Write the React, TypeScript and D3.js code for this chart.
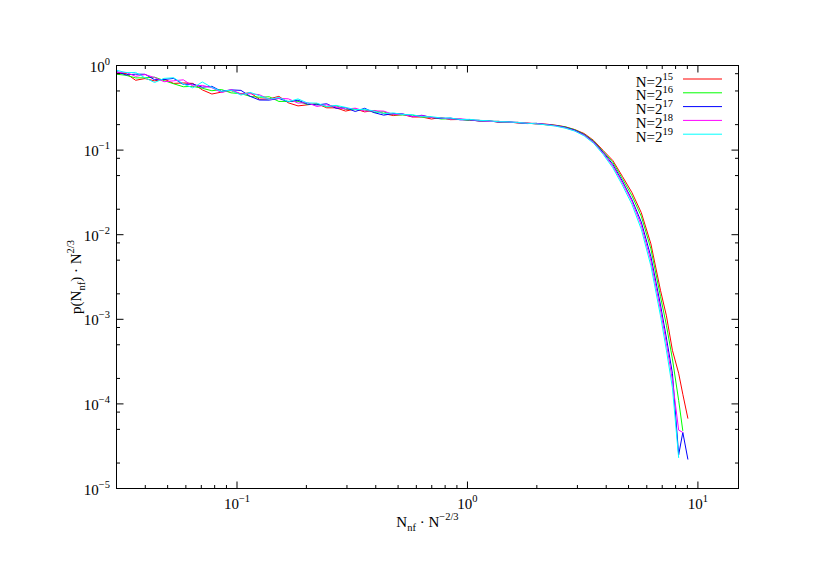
import React from "react";
import * as d3 from "d3";

const width = 830;
const height = 587;
const margin = { top: 65.5, right: 91.5, bottom: 98.5, left: 116.5 };
const font = "'Liberation Serif', 'Times New Roman', serif";
const fs = 15;
const fsSmall = 10.5;

// x grid, N_nf * N^(-2/3)
const xs = [
  0.03, 0.033, 0.0363, 0.0399, 0.0439, 0.0483, 0.0531, 0.0585, 0.0643, 0.0707,
  0.0778, 0.0856, 0.0942, 0.104, 0.114, 0.125, 0.138, 0.152, 0.167, 0.184,
  0.202, 0.222, 0.245, 0.269, 0.296, 0.326, 0.358, 0.394, 0.433, 0.477,
  0.524, 0.577, 0.634, 0.698, 0.768, 0.844, 0.929, 1.02, 1.12, 1.24,
  1.36, 1.5, 1.65, 1.81, 1.99, 2.19, 2.41, 2.65, 2.92, 3.21,
  3.53, 3.88, 4.27, 4.7, 5.17, 5.68, 6.25, 6.88, 7.3, 7.75,
  8.25, 8.6, 9.05,
];

// p(N_nf) * N^(2/3) for each system size
const n15 = [
  0.805, 0.806, 0.669, 0.701, 0.658, 0.69, 0.614, 0.622, 0.614, 0.515,
  0.46, 0.485, 0.505, 0.461, 0.477, 0.4, 0.403, 0.432, 0.362, 0.333,
  0.343, 0.355, 0.316, 0.316, 0.289, 0.307, 0.283, 0.294, 0.27, 0.256,
  0.263, 0.246, 0.246, 0.233, 0.243, 0.229, 0.23, 0.228, 0.221, 0.222,
  0.214, 0.216, 0.209, 0.21, 0.203, 0.203, 0.197, 0.189, 0.175, 0.157,
  0.13, 0.099, 0.0755, 0.049, 0.0316, 0.0182, 0.0078, 0.0022, 0.0011, 0.00043,
  0.00023, 0.00013, 0.000067,
];
const n16 = [
  0.789, 0.766, 0.714, 0.715, 0.728, 0.663, 0.608, 0.561, 0.567, 0.538,
  0.503, 0.52, 0.475, 0.465, 0.432, 0.421, 0.427, 0.376, 0.377, 0.377,
  0.346, 0.348, 0.326, 0.335, 0.302, 0.301, 0.298, 0.28, 0.283, 0.262,
  0.26, 0.259, 0.246, 0.245, 0.233, 0.234, 0.232, 0.224, 0.225, 0.218,
  0.219, 0.212, 0.213, 0.206, 0.207, 0.199, 0.196, 0.188, 0.174, 0.154,
  0.1275, 0.096, 0.072, 0.046, 0.029, 0.0165, 0.0068, 0.00186, 0.00085, 0.00034,
  0.00011, 0.000048, null,
];
const n17 = [
  0.847, 0.774, 0.79, 0.788, 0.679, 0.683, 0.704, 0.598, 0.603, 0.554,
  0.567, 0.495, 0.515, 0.508, 0.432, 0.391, 0.39, 0.408, 0.373, 0.389,
  0.35, 0.342, 0.353, 0.312, 0.317, 0.286, 0.312, 0.277, 0.259, 0.27,
  0.268, 0.249, 0.258, 0.243, 0.236, 0.239, 0.228, 0.228, 0.221, 0.221,
  0.215, 0.216, 0.211, 0.206, 0.207, 0.201, 0.195, 0.186, 0.172, 0.152,
  0.125, 0.094, 0.068, 0.043, 0.026, 0.0141, 0.0055, 0.00148, 0.0006, 0.00023,
  0.000025, 0.000046, 0.000022,
];
const n18 = [
  0.83, 0.83, 0.745, 0.781, 0.721, 0.643, 0.659, 0.677, 0.573, 0.582,
  0.546, 0.479, 0.519, 0.461, 0.464, 0.452, 0.398, 0.408, 0.404, 0.359,
  0.364, 0.328, 0.343, 0.325, 0.305, 0.313, 0.289, 0.291, 0.289, 0.264,
  0.265, 0.249, 0.255, 0.243, 0.24, 0.232, 0.235, 0.228, 0.225, 0.218,
  0.219, 0.214, 0.213, 0.208, 0.206, 0.2, 0.194, 0.184, 0.169, 0.15,
  0.1225, 0.0917, 0.065, 0.041, 0.0248, 0.0129, 0.0049, 0.00129, 0.00052, 0.00019,
  0.000049, 0.000046, null,
];
const n19 = [
  0.88, 0.822, 0.828, 0.715, 0.63, 0.704, 0.717, 0.604, 0.544, 0.638,
  0.551, 0.495, 0.51, 0.447, 0.482, 0.439, 0.398, 0.42, 0.373, 0.403,
  0.361, 0.359, 0.326, 0.338, 0.32, 0.301, 0.304, 0.289, 0.27, 0.275,
  0.263, 0.262, 0.248, 0.248, 0.24, 0.239, 0.23, 0.231, 0.225, 0.222,
  0.217, 0.216, 0.212, 0.208, 0.204, 0.199, 0.192, 0.182, 0.168, 0.147,
  0.12, 0.089, 0.062, 0.0385, 0.0229, 0.0116, 0.0043, 0.0011, 0.00043, 0.000155,
  0.000023, null, null,
];

const seriesExps = ["15", "16", "17", "18", "19"];
const seriesValues = [n15, n16, n17, n18, n19];
const seriesColors = ["#ff0000", "#00ff00", "#0000ff", "#ff00ff", "#00ffff"];

const xTickValues = [0.1, 1, 10];
const xTickExps = ["\u22121", "0", "1"];
const yTickValues = [1, 0.1, 0.01, 0.001, 0.0001, 0.00001];
const yTickExps = ["0", "\u22121", "\u22122", "\u22123", "\u22124", "\u22125"];

const x = d3
  .scaleLog()
  .domain([0.03, 15])
  .range([margin.left, width - margin.right]);
const y = d3
  .scaleLog()
  .domain([1e-5, 1])
  .range([height - margin.bottom, margin.top]);

const majorLen = 7;
const minorLen = 3.5;

function minorX() {
  const out: number[] = [];
  [0.01, 0.1, 1, 10].forEach((d) => {
    for (let m = 2; m <= 9; m++) {
      const v = d * m;
      if (v > 0.03 && v < 15) out.push(v);
    }
  });
  return out;
}

function minorY() {
  const out: number[] = [];
  [1e-6, 1e-5, 1e-4, 1e-3, 1e-2, 1e-1].forEach((d) => {
    [2, 5, 8].forEach((m) => {
      const v = d * m;
      if (v > 1e-5 && v < 1) out.push(v);
    });
  });
  return out;
}

export default function App() {
  const x0 = margin.left;
  const x1 = width - margin.right;
  const y0 = margin.top;
  const y1 = height - margin.bottom;

  const line = d3
    .line<[number, number | null]>()
    .defined((d) => d[1] != null)
    .x((d) => x(d[0]))
    .y((d) => y(d[1] as number));

  const tickStyle = { stroke: "#000", strokeWidth: 1 };

  return (
    <svg
      width={width}
      height={height}
      style={{ position: "absolute", left: 0, top: 0, background: "#fff" }}
      fontFamily={font}
    >
      {/* series */}
      {seriesValues.map((vals, i) => (
        <path
          key={seriesExps[i]}
          d={line(xs.map((xv, j) => [xv, vals[j]]) as [number, number | null][]) || ""}
          fill="none"
          stroke={seriesColors[i]}
          strokeWidth={1}
        />
      ))}

      {/* ticks */}
      {minorX().map((v) => (
        <g key={"mx" + v}>
          <line x1={x(v)} x2={x(v)} y1={y1} y2={y1 - minorLen} {...tickStyle} />
          <line x1={x(v)} x2={x(v)} y1={y0} y2={y0 + minorLen} {...tickStyle} />
        </g>
      ))}
      {xTickValues.map((v) => (
        <g key={"x" + v}>
          <line x1={x(v)} x2={x(v)} y1={y1} y2={y1 - majorLen} {...tickStyle} />
          <line x1={x(v)} x2={x(v)} y1={y0} y2={y0 + majorLen} {...tickStyle} />
        </g>
      ))}
      {minorY().map((v) => (
        <g key={"my" + v}>
          <line x1={x0} x2={x0 + minorLen} y1={y(v)} y2={y(v)} {...tickStyle} />
          <line x1={x1} x2={x1 - minorLen} y1={y(v)} y2={y(v)} {...tickStyle} />
        </g>
      ))}
      {yTickValues.map((v) => (
        <g key={"y" + v}>
          <line x1={x0} x2={x0 + majorLen} y1={y(v)} y2={y(v)} {...tickStyle} />
          <line x1={x1} x2={x1 - majorLen} y1={y(v)} y2={y(v)} {...tickStyle} />
        </g>
      ))}

      {/* frame */}
      <rect x={x0} y={y0} width={x1 - x0} height={y1 - y0} fill="none" stroke="#000" strokeWidth={1} />

      {/* tick labels */}
      {xTickValues.map((v, i) => (
        <text key={"xl" + v} x={x(v)} y={y1 + 20} textAnchor="middle" fontSize={fs}>
          10
          <tspan dy={-7} fontSize={fsSmall}>
            {xTickExps[i]}
          </tspan>
        </text>
      ))}
      {yTickValues.map((v, i) => (
        <text key={"yl" + v} x={110} y={y(v) + 6} textAnchor="end" fontSize={fs}>
          10
          <tspan dy={-7} fontSize={fsSmall}>
            {yTickExps[i]}
          </tspan>
        </text>
      ))}

      {/* axis titles */}
      <text x={(x0 + x1) / 2} y={527} textAnchor="middle" fontSize={fs}>
        N
        <tspan dy={4} fontSize={fsSmall}>nf</tspan>
        <tspan dy={-4}> · N</tspan>
        <tspan dy={-7} fontSize={fsSmall}>{"\u22122/3"}</tspan>
      </text>
      <text
        transform={`translate(81,${(y0 + y1) / 2}) rotate(-90)`}
        textAnchor="middle"
        fontSize={fs}
      >
        p(N
        <tspan dy={4} fontSize={fsSmall}>nf</tspan>
        <tspan dy={-4}>) · N</tspan>
        <tspan dy={-7} fontSize={fsSmall}>2/3</tspan>
      </text>

      {/* legend */}
      {seriesExps.map((e, i) => {
        const ly = 79 + i * 13.8;
        return (
          <g key={"lg" + e}>
            <text x={673} y={ly + 7.5} textAnchor="end" fontSize={fs}>
              N=2
              <tspan dy={-7} fontSize={fsSmall}>{e}</tspan>
            </text>
            <line x1={683} x2={722} y1={ly} y2={ly} stroke={seriesColors[i]} strokeWidth={1} />
          </g>
        );
      })}
    </svg>
  );
}
